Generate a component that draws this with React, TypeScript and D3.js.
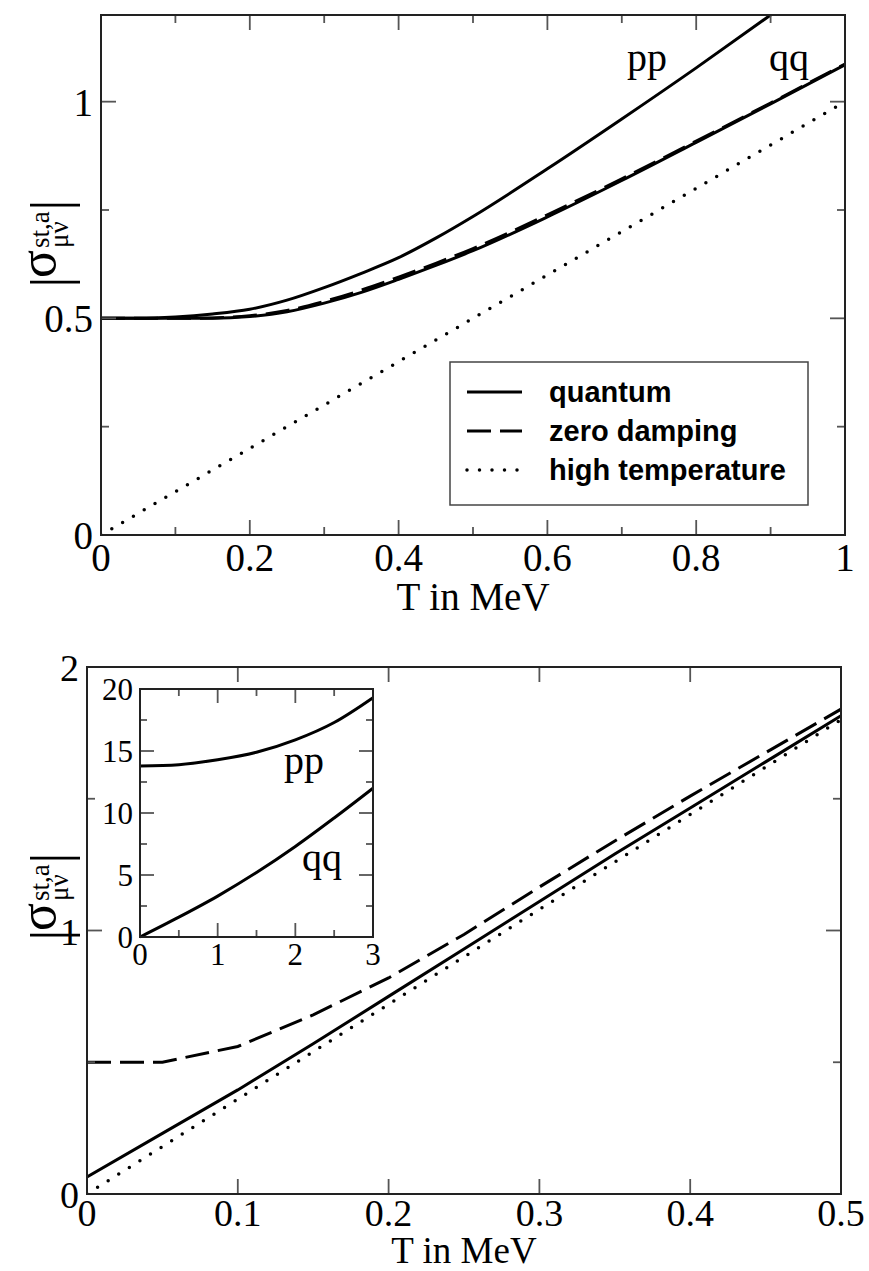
import React from 'react';
import * as d3 from 'd3';

// top panel, T in MeV
const topT = [0, 0.05, 0.1, 0.15, 0.2, 0.25, 0.3, 0.35, 0.4, 0.45, 0.5, 0.6, 0.7, 0.8, 0.9, 1.0];
const topPPQuantum = [0.5, 0.5, 0.503, 0.51, 0.521, 0.542, 0.571, 0.604, 0.64, 0.685, 0.735, 0.845, 0.96, 1.078, 1.2, 1.325];
const topQQQuantum = [0.5, 0.5, 0.5, 0.5, 0.504, 0.515, 0.535, 0.56, 0.59, 0.622, 0.656, 0.734, 0.818, 0.906, 0.995, 1.085];
const topQQZeroDamping = [0.5, 0.5, 0.5, 0.501, 0.506, 0.518, 0.539, 0.565, 0.595, 0.627, 0.661, 0.739, 0.822, 0.909, 0.997, 1.087];
const topHighT = [0, 1];
const topHighV = [0, 1];

// bottom panel
const botT = [0, 0.05, 0.1, 0.15, 0.2, 0.25, 0.3, 0.35, 0.4, 0.45, 0.5];
const botQuantum = [0.065, 0.23, 0.395, 0.57, 0.75, 0.93, 1.11, 1.29, 1.465, 1.64, 1.815];
const botZeroDamping = [0.5, 0.5, 0.56, 0.68, 0.82, 0.985, 1.165, 1.34, 1.51, 1.675, 1.84];
const botHighT = [0, 0.5];
const botHighV = [0, 1.8];

// inset
const insT = [0, 0.5, 1, 1.5, 2, 2.5, 3];
const insPP = [13.8, 13.9, 14.3, 14.9, 15.9, 17.3, 19.3];
const insQQ = [0, 1.6, 3.3, 5.2, 7.3, 9.6, 12.0];

// ticks
const topXMajor = [0, 0.2, 0.4, 0.6, 0.8, 1];
const topXLabels = ['0', '0.2', '0.4', '0.6', '0.8', '1'];
const topXMinor = [0.1, 0.3, 0.5, 0.7, 0.9];
const topYMajor = [0, 0.5, 1];
const topYLabels = ['0', '0.5', '1'];
const topYMinor = [0.25, 0.75];

const botXMajor = [0, 0.1, 0.2, 0.3, 0.4, 0.5];
const botXLabels = ['0', '0.1', '0.2', '0.3', '0.4', '0.5'];
const botYMajor = [0, 1, 2];
const botYLabels = ['0', '1', '2'];
const botYMinor = [0.5, 1.5];

const insXMajor = [0, 1, 2, 3];
const insXLabels = ['0', '1', '2', '3'];
const insXMinor = [0.5, 1.5, 2.5];
const insYMajor = [0, 5, 10, 15, 20];
const insYLabels = ['0', '5', '10', '15', '20'];
const insYMinor = [2.5, 7.5, 12.5, 17.5];

const legendNames = ['quantum', 'zero damping', 'high temperature'];

const SERIF = '"Liberation Serif", "Times New Roman", serif';
const SANS = '"Liberation Sans", Arial, sans-serif';
const DASH = '24 9';
const DOT = '0 12.5';

function Frame({ x, y, xMajor, xMinor, yMajor, yMinor, xLabels, yLabels, major, minor, fs, xOff, yOff, gap }) {
  const [x0, x1] = x.range();
  const [y0, y1] = y.range();
  const tk = { stroke: '#555', strokeWidth: 1.8 };
  return (
    <g>
      {xMajor.map((v, i) => (
        <g key={'xM' + i}>
          <line x1={x(v)} x2={x(v)} y1={y0} y2={y0 - major} {...tk} />
          <line x1={x(v)} x2={x(v)} y1={y1} y2={y1 + major} {...tk} />
          <text x={x(v)} y={y0 + xOff} textAnchor="middle" fontFamily={SERIF} fontSize={fs}>{xLabels[i]}</text>
        </g>
      ))}
      {xMinor.map((v, i) => (
        <g key={'xm' + i}>
          <line x1={x(v)} x2={x(v)} y1={y0} y2={y0 - minor} {...tk} />
          <line x1={x(v)} x2={x(v)} y1={y1} y2={y1 + minor} {...tk} />
        </g>
      ))}
      {yMajor.map((v, i) => (
        <g key={'yM' + i}>
          <line x1={x0} x2={x0 + major} y1={y(v)} y2={y(v)} {...tk} />
          <line x1={x1} x2={x1 - major} y1={y(v)} y2={y(v)} {...tk} />
          <text x={x0 - gap} y={y(v) + yOff} textAnchor="end" fontFamily={SERIF} fontSize={fs}>{yLabels[i]}</text>
        </g>
      ))}
      {yMinor.map((v, i) => (
        <g key={'ym' + i}>
          <line x1={x0} x2={x0 + minor} y1={y(v)} y2={y(v)} {...tk} />
          <line x1={x1} x2={x1 - minor} y1={y(v)} y2={y(v)} {...tk} />
        </g>
      ))}
      <rect x={x0} y={y1} width={x1 - x0} height={y0 - y1} fill="none" stroke="#222" strokeWidth={2} />
    </g>
  );
}

function YLabel({ top }) {
  // rotated |sigma^{st,a}_{mu nu}| ; local x = -page y, local y = page x
  return (
    <g transform="rotate(-90)" fontFamily={SERIF}>
      <text x={-(top + 77)} y={68} fontSize={54} textAnchor="middle">|</text>
      <text x={-(top + 73)} y={55} fontSize={52}>σ</text>
      <text x={-(top + 43)} y={49} fontSize={27}>st,a</text>
      <text x={-(top + 43)} y={68} fontSize={27}>μν</text>
      <text x={-top} y={68} fontSize={54} textAnchor="middle">|</text>
    </g>
  );
}

export default function App() {
  // top panel scales
  const xt = d3.scaleLinear().domain([0, 1]).range([101, 845]);
  const yt = d3.scaleLinear().domain([0, 1.2]).range([535, 15]);
  // bottom panel
  const xb = d3.scaleLinear().domain([0, 0.5]).range([87, 841]);
  const yb = d3.scaleLinear().domain([0, 2]).range([1194, 667]);
  // inset
  const xi = d3.scaleLinear().domain([0, 3]).range([140, 373]);
  const yi = d3.scaleLinear().domain([0, 20]).range([937, 689]);

  const lineTop = (xs, ys) =>
    d3.line<number>().x((d, i) => xt(xs[i])).y(d => yt(d)).curve(d3.curveMonotoneX)(ys);
  const lineBot = (xs, ys) =>
    d3.line<number>().x((d, i) => xb(xs[i])).y(d => yb(d))(ys);
  const lineIns = (xs, ys) =>
    d3.line<number>().x((d, i) => xi(xs[i])).y(d => yi(d)).curve(d3.curveMonotoneX)(ys);

  const curve = { fill: 'none', stroke: '#000', strokeWidth: 3 };
  const dotted = { ...curve, strokeWidth: 3.5, strokeDasharray: DOT, strokeLinecap: 'round' as const };
  const dashed = { ...curve, strokeDasharray: DASH };

  const legX = 450, legY = 362;
  const legStyles = [curve, dashed, dotted];

  return (
    <svg width={869} height={1271} style={{ position: 'absolute', left: 0, top: 0, background: '#fff' }}>
      <defs>
        <clipPath id="clipTop"><rect x={101} y={15} width={744} height={520} /></clipPath>
        <clipPath id="clipBot"><rect x={87} y={667} width={754} height={527} /></clipPath>
      </defs>

      {/* top panel */}
      <g clipPath="url(#clipTop)">
        <path d={lineTop(topHighT, topHighV)} {...dotted} />
        <path d={lineTop(topT, topQQZeroDamping)} {...dashed} />
        <path d={lineTop(topT, topQQQuantum)} {...curve} />
        <path d={lineTop(topT, topPPQuantum)} {...curve} />
      </g>
      <Frame x={xt} y={yt} xMajor={topXMajor} xMinor={topXMinor} yMajor={topYMajor} yMinor={topYMinor}
        xLabels={topXLabels} yLabels={topYLabels} major={15} minor={8} fs={39} xOff={36} yOff={14} gap={8} />
      <text x={647} y={71} textAnchor="middle" fontFamily={SERIF} fontSize={40}>pp</text>
      <text x={789} y={71} textAnchor="middle" fontFamily={SERIF} fontSize={40}>qq</text>
      <text x={473} y={610} textAnchor="middle" fontFamily={SERIF} fontSize={39}>T in MeV</text>
      <YLabel top={205} />

      {/* legend */}
      <rect x={legX} y={legY} width={358} height={143} fill="#fff" stroke="#444" strokeWidth={1.5} />
      {legendNames.map((n, i) => (
        <g key={n}>
          <line x1={legX + 17} x2={legX + 72} y1={legY + 30 + i * 39} y2={legY + 30 + i * 39} {...legStyles[i]} />
          <text x={legX + 99} y={legY + 40 + i * 39} fontFamily={SANS} fontWeight="bold" fontSize={29}>{n}</text>
        </g>
      ))}

      {/* bottom panel */}
      <g clipPath="url(#clipBot)">
        <path d={lineBot(botHighT, botHighV)} {...dotted} />
        <path d={lineBot(botT, botZeroDamping)} {...dashed} />
        <path d={lineBot(botT, botQuantum)} {...curve} />
      </g>
      <Frame x={xb} y={yb} xMajor={botXMajor} xMinor={[]} yMajor={botYMajor} yMinor={botYMinor}
        xLabels={botXLabels} yLabels={botYLabels} major={15} minor={8} fs={38} xOff={32} yOff={14} gap={8} />
      <text x={464} y={1263} textAnchor="middle" fontFamily={SERIF} fontSize={37}>T in MeV</text>
      <YLabel top={858} />

      {/* inset */}
      <rect x={140} y={689} width={233} height={248} fill="#fff" />
      <path d={lineIns(insT, insPP)} {...curve} />
      <path d={lineIns(insT, insQQ)} {...curve} />
      <Frame x={xi} y={yi} xMajor={insXMajor} xMinor={insXMinor} yMajor={insYMajor} yMinor={insYMinor}
        xLabels={insXLabels} yLabels={insYLabels} major={14} minor={7} fs={31} xOff={28} yOff={11} gap={7} />
      <text x={304} y={774} textAnchor="middle" fontFamily={SERIF} fontSize={40}>pp</text>
      <text x={322} y={871} textAnchor="middle" fontFamily={SERIF} fontSize={40}>qq</text>
    </svg>
  );
}
